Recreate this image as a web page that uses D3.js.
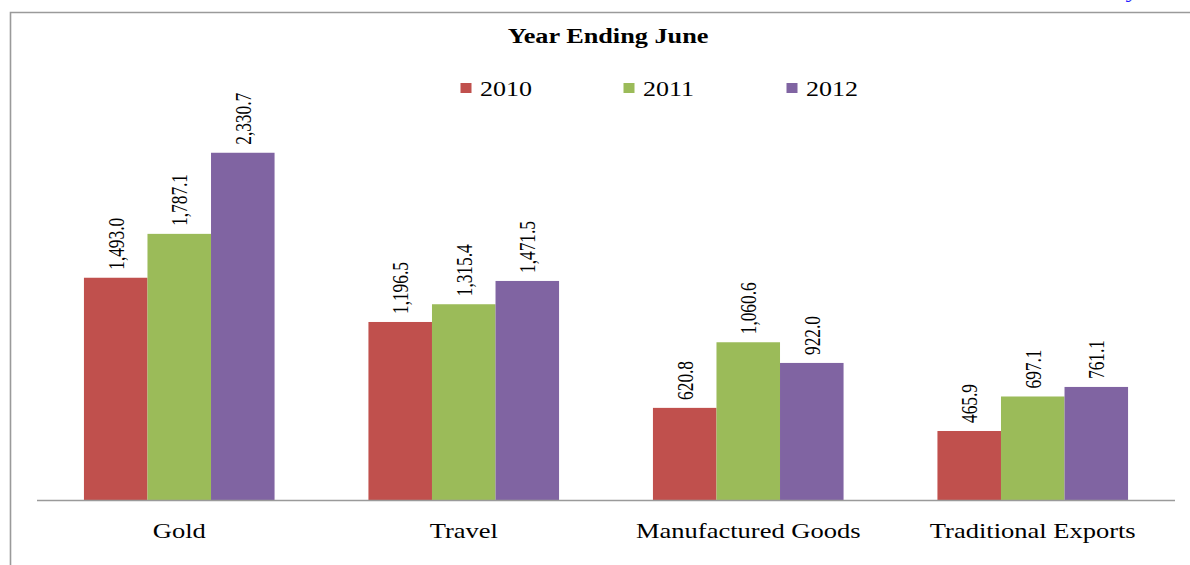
<!DOCTYPE html>
<html><head><meta charset="utf-8">
<script src="https://cdn.jsdelivr.net/npm/d3@7"></script>
<style>body{margin:0;background:#fff;}svg{display:block;}</style>
</head><body>
<script>
const categories = ["Gold", "Travel", "Manufactured Goods", "Traditional Exports"];
const seriesNames = ["2010", "2011", "2012"];
const values2010 = [1493.0, 1196.5, 620.8, 465.9];
const values2011 = [1787.1, 1315.4, 1060.6, 697.1];
const values2012 = [2330.7, 1471.5, 922.0, 761.1];
const colors = ["#C0504D", "#9BBB59", "#8064A2"];
const title = "Year Ending June";

const W = 1190, H = 565, SX = 1.3;
const font = "'Liberation Serif','Times New Roman',serif";
const svg = d3.select("body").append("svg").attr("width", W).attr("height", H);

// frame
svg.append("path").attr("d", "M10.5,565 L10.5,12.5 L1190,12.5")
  .attr("fill", "none").attr("stroke", "#9a9a9a").attr("stroke-width", 1.6);
// clipped blue text at top right (cut off in the reference too)
svg.append("g").attr("transform", "translate(1128,-2) scale(1.3,1)")
  .append("text").text("y").attr("font-family", font).attr("font-style", "italic")
  .attr("font-size", 19).attr("fill", "#2020ff");

const seriesVals = [values2010, values2011, values2012];
const data = categories.map((c, i) => ({cat: c, vals: seriesVals.map((s, j) => ({name: seriesNames[j], v: s[i], j}))}));

const x0 = d3.scaleBand().domain(categories).range([37, 1175]).paddingInner(0.33).paddingOuter(0.165);
const x1 = d3.scaleBand().domain(seriesNames).range([0, x0.bandwidth()]);
const y = d3.scaleLinear().domain([0, 2500]).range([500.5, 127.5]);

const fmt = d3.format(",.1f");
const groups = svg.append("g").selectAll("g").data(data).join("g")
  .attr("transform", d => `translate(${x0(d.cat)},0)`);
groups.selectAll("rect").data(d => d.vals).join("rect")
  .attr("x", d => x1(d.name)).attr("width", x1.bandwidth())
  .attr("y", d => y(d.v)).attr("height", d => y(0) - y(d.v))
  .attr("fill", d => colors[d.j]);
groups.selectAll("g.lbl").data(d => d.vals).join("g").attr("class", "lbl")
  .attr("transform", d => `translate(${x1(d.name) + x1.bandwidth() / 2},${y(d.v) - 8}) scale(${SX},1) rotate(-90)`)
  .append("text").text(d => fmt(d.v)).attr("dy", "0.35em")
  .attr("font-family", font).attr("font-size", 17.3).attr("fill", "#000");

// axis
const axis = svg.append("g").attr("transform", `translate(0,${y(0)})`)
  .call(d3.axisBottom(x0).tickSize(0).tickPadding(0));
axis.select(".domain").attr("stroke", "#9a9a9a").attr("stroke-width", 1.5).attr("d", "M37,0H1175");
axis.selectAll(".tick text").remove();
axis.selectAll(".tick").append("g").attr("transform", `translate(0,37) scale(${SX},1)`)
  .append("text").text(d => d).attr("text-anchor", "middle")
  .attr("font-family", font).attr("font-size", 20.4).attr("fill", "#000");

// title
svg.append("g").attr("transform", `translate(608,43) scale(${SX},1)`)
  .append("text").text(title).attr("text-anchor", "middle")
  .attr("font-family", font).attr("font-weight", "bold").attr("font-size", 20.2).attr("fill", "#000");

// legend
const lx = [460.5, 623.5, 786.5];
const leg = svg.append("g").selectAll("g").data(seriesNames).join("g")
  .attr("transform", (d, i) => `translate(${lx[i]},0)`);
leg.append("rect").attr("x", 0).attr("y", 83).attr("width", 11).attr("height", 10)
  .attr("fill", (d, i) => colors[i]);
leg.append("g").attr("transform", `translate(19.5,96) scale(${SX},1)`)
  .append("text").text(d => d).attr("font-family", font).attr("font-size", 20).attr("fill", "#000");
</script>
</body></html>
